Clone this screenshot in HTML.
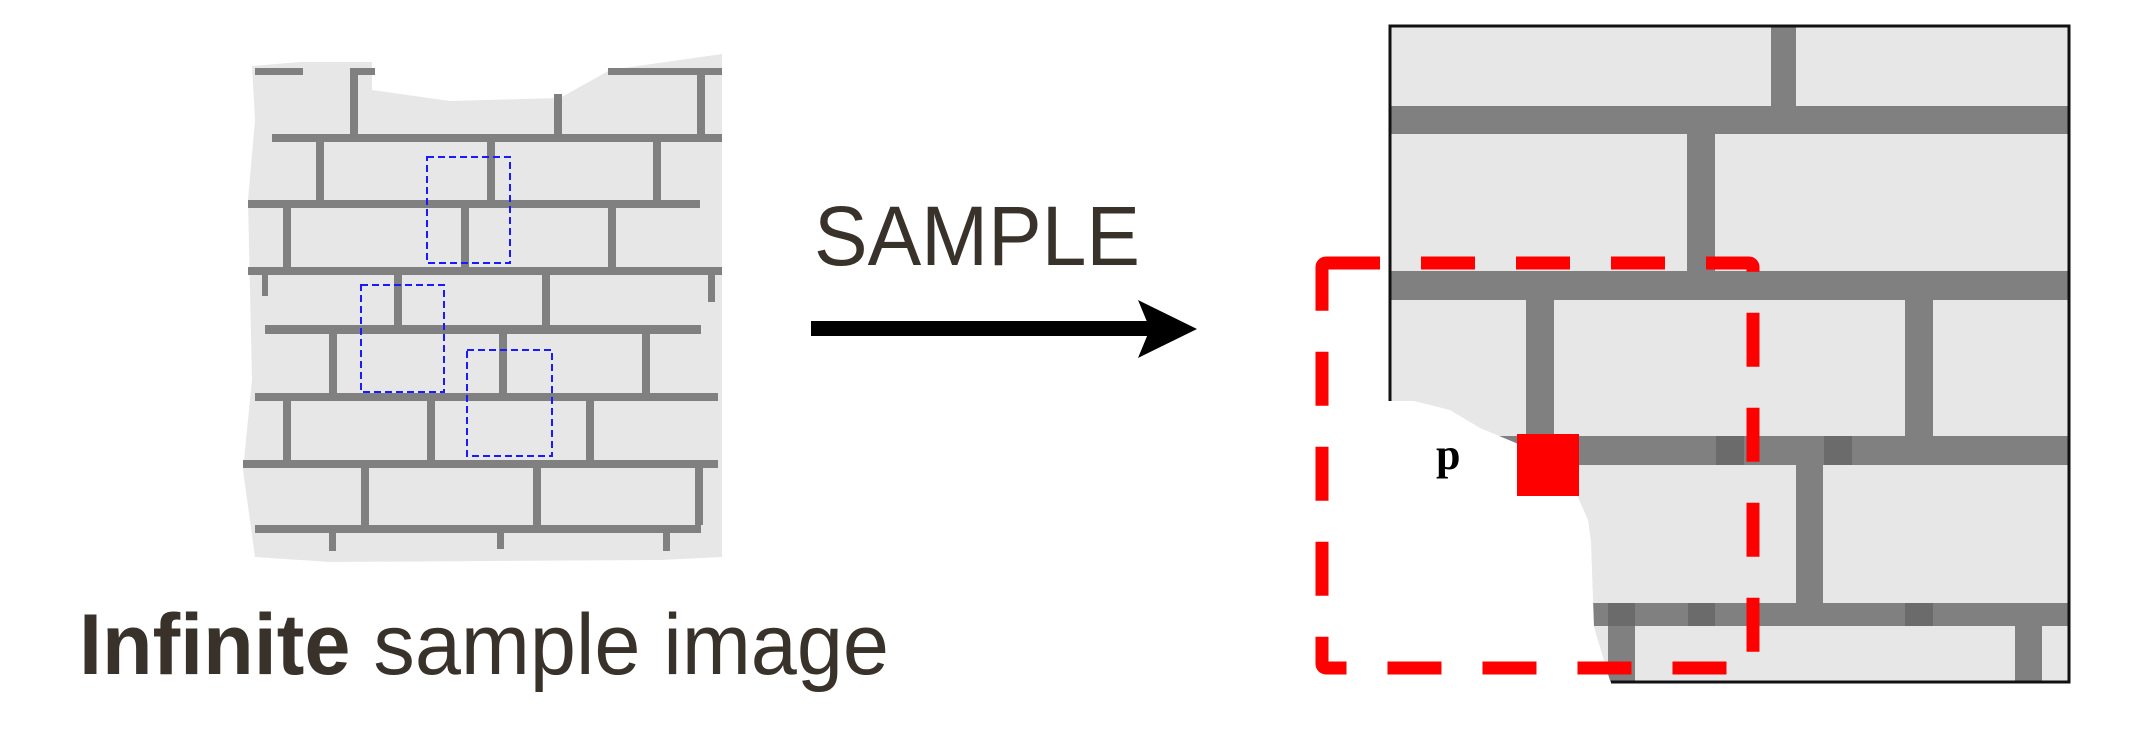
<!DOCTYPE html>
<html><head><meta charset="utf-8"><style>
html,body{margin:0;padding:0;background:#fff;}
svg{display:block;}
</style></head><body>
<svg width="2134" height="740" viewBox="0 0 2134 740" xmlns="http://www.w3.org/2000/svg">
<g>
<polygon points="252,66 300,62 372,62 372,90 450,101 560,98 610,70 722,54 722,557 660,560 330,562 255,557 243,470 252,380 248,200 255,120" fill="#e7e7e7"/>
<g fill="#808080">
<rect x="255" y="68" width="48" height="7"/><rect x="350" y="68" width="25" height="7"/><rect x="608" y="68" width="114" height="7"/>
<rect x="272" y="134" width="450" height="8"/>
<rect x="248" y="200" width="452" height="8"/>
<rect x="248" y="267" width="474" height="8"/>
<rect x="265" y="325" width="436" height="9"/>
<rect x="255" y="393" width="463" height="8"/>
<rect x="243" y="460" width="475" height="8"/>
<rect x="255" y="525" width="446" height="8"/>
<rect x="350" y="68" width="8" height="66"/><rect x="554" y="94" width="8" height="40"/><rect x="697" y="68" width="8" height="66"/>
<rect x="316" y="142" width="8" height="58"/><rect x="487" y="142" width="8" height="58"/><rect x="653" y="142" width="8" height="58"/>
<rect x="283" y="208" width="8" height="59"/><rect x="461" y="208" width="8" height="59"/><rect x="608" y="208" width="8" height="59"/>
<rect x="262" y="274" width="6" height="22"/><rect x="394" y="274" width="8" height="51"/><rect x="542" y="274" width="8" height="51"/><rect x="708" y="274" width="7" height="28"/>
<rect x="329" y="334" width="8" height="59"/><rect x="499" y="334" width="8" height="59"/><rect x="642" y="334" width="8" height="59"/>
<rect x="283" y="401" width="8" height="59"/><rect x="427" y="401" width="8" height="59"/><rect x="586" y="401" width="8" height="59"/>
<rect x="361" y="467" width="8" height="58"/><rect x="533" y="467" width="8" height="58"/><rect x="695" y="467" width="8" height="58"/>
<rect x="329" y="533" width="7" height="18"/><rect x="497" y="533" width="7" height="16"/><rect x="663" y="533" width="7" height="18"/>
</g>
<g fill="none" stroke="#1a1aff" stroke-width="2" stroke-dasharray="7,4">
<rect x="427" y="157" width="83" height="106"/>
<rect x="361" y="285" width="83" height="107"/>
<rect x="467" y="350" width="85" height="106"/>
</g>
</g>
<text x="79" y="674" font-family="Liberation Sans, sans-serif" font-size="86" fill="#38322a" textLength="810" lengthAdjust="spacingAndGlyphs"><tspan font-weight="bold">Infinite</tspan> sample image</text>
<text x="814" y="265" font-family="Liberation Sans, sans-serif" font-size="84" fill="#38322a" textLength="326" lengthAdjust="spacingAndGlyphs">SAMPLE</text>
<g>
<rect x="811" y="321" width="340" height="15" fill="#000"/>
<polygon points="1138,300 1197,329 1138,358 1150,329" fill="#000"/>
</g>
<g>
<rect x="1390" y="26" width="679" height="656" fill="#e7e7e7"/>
<g fill="#808080">
<rect x="1390" y="106" width="679" height="28"/>
<rect x="1390" y="271" width="679" height="29"/>
<rect x="1390" y="436" width="679" height="29"/>
<rect x="1390" y="603" width="679" height="23"/>
<rect x="1771" y="26" width="25" height="80"/>
<rect x="1687" y="134" width="28" height="137"/>
<rect x="1526" y="300" width="28" height="136"/>
<rect x="1905" y="300" width="28" height="136"/>
<rect x="1796" y="465" width="27" height="138"/>
<rect x="1608" y="626" width="27" height="56"/>
<rect x="2015" y="626" width="27" height="56"/>
</g>
<g fill="#6b6b6b">
<rect x="1716" y="436" width="28" height="29"/><rect x="1824" y="436" width="28" height="29"/>
<rect x="1608" y="603" width="27" height="23"/><rect x="1688" y="603" width="27" height="23"/><rect x="1905" y="603" width="28" height="23"/>
</g>
<polygon points="1388,401 1414,401 1450,410 1480,428 1516,443 1560,470 1577,495 1588,520 1591,542 1594,627 1611,684 1388,684" fill="#fff"/>
<polyline points="1390,401 1390,26 2069,26 2069,682 1611,682" fill="none" stroke="#111" stroke-width="3"/>
</g>
<rect x="1322" y="263" width="431" height="405" rx="4" fill="none" stroke="#ff0000" stroke-width="13" stroke-dasharray="54,41"/>
<rect x="1517" y="434" width="62" height="62" fill="#ff0000"/>
<text x="1436" y="469" font-family="Liberation Serif, serif" font-weight="bold" font-size="44" fill="#000">p</text>
</svg>
</body></html>
